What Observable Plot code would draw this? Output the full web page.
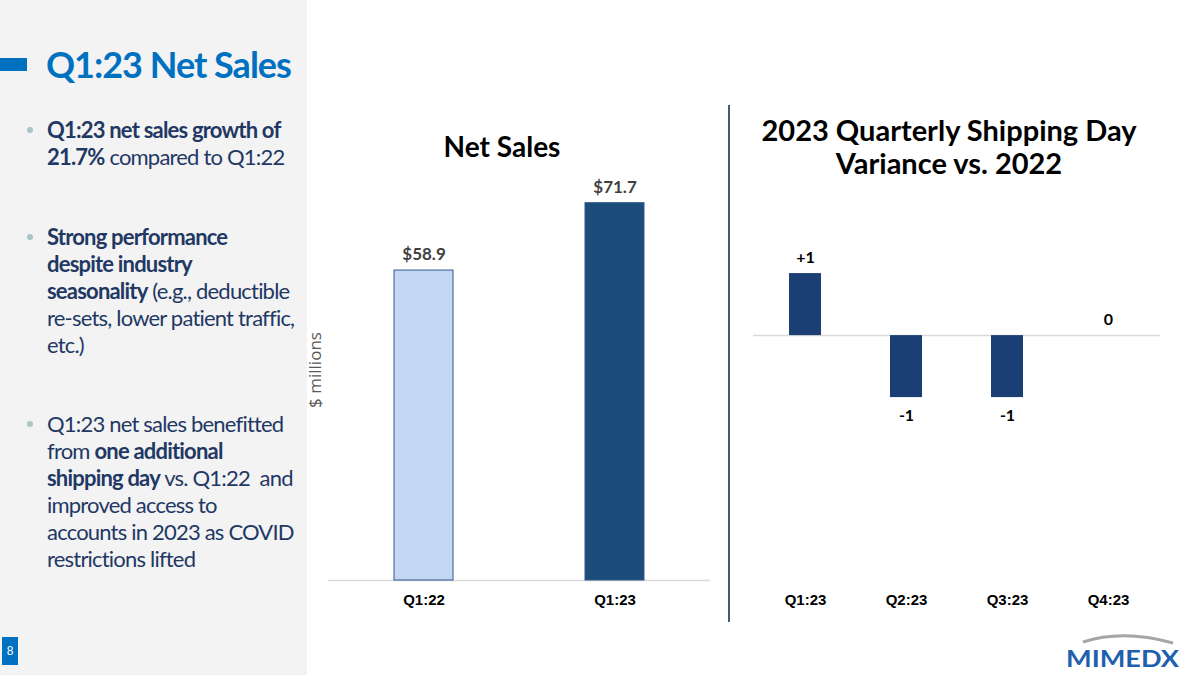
<!DOCTYPE html>
<html><head><meta charset="utf-8">
<script src="https://cdn.jsdelivr.net/npm/d3@7"></script>
<script src="https://cdn.jsdelivr.net/npm/@observablehq/plot@0.6"></script>
<style>
body{margin:0;background:#fff;}
#page{position:relative;width:1200px;height:675px;overflow:hidden;font-family:Lato,"Open Sans",sans-serif;background:#fff;}
#leftpanel{position:absolute;left:0;top:0;width:307px;height:675px;background:#f3f3f3;}
#titlebar{position:absolute;left:0;top:58px;width:27px;height:13px;background:#0070c0;}
#title{position:absolute;left:46px;top:40px;font-size:36px;font-weight:bold;color:#0070c0;letter-spacing:-1px;white-space:nowrap;line-height:48px;}
.bullet{position:absolute;left:47px;font-size:22px;line-height:27px;color:#1f3864;white-space:nowrap;letter-spacing:-0.8px;}
.bullet b{font-weight:bold;}
.dot{position:absolute;left:-20px;top:11px;width:6px;height:6px;border-radius:3px;background:#a9c5c5;}
.ctitle{position:absolute;font-size:28px;font-weight:bold;color:#000;text-align:center;line-height:33px;white-space:nowrap;}
#divider{position:absolute;left:728px;top:105px;width:2px;height:517px;background:#4a5a75;}
#pagenum{position:absolute;left:2px;top:637px;width:16px;height:28px;background:#0070c0;color:#fff;font-family:"Liberation Sans",Arial,sans-serif;font-size:12px;line-height:28px;text-align:center;}
.chart{position:absolute;}
</style></head><body>
<div id="page">
  <div id="leftpanel"></div>
  <div id="titlebar"></div>
  <div id="title">Q1:23 Net Sales</div>
  <div class="bullet" style="top:116px"><span class="dot"></span><b>Q1:23 net sales growth of<br>21.7%</b> compared to Q1:22</div>
  <div class="bullet" style="top:223px"><span class="dot"></span><b>Strong performance<br>despite industry<br>seasonality</b> (e.g., deductible<br>re-sets, lower patient traffic,<br>etc.)</div>
  <div class="bullet" style="top:410px"><span class="dot"></span>Q1:23 net sales benefitted<br>from <b>one additional<br>shipping day</b> vs. Q1:22&nbsp; and<br>improved access to<br>accounts in 2023 as COVID<br>restrictions lifted</div>
  <div class="ctitle" style="left:402px;top:130px;width:200px;">Net Sales</div>
  <div class="ctitle" style="left:749px;top:113px;width:400px;font-size:29px;">2023 Quarterly Shipping Day<br>Variance vs. 2022</div>
  <div id="divider"></div>
  <div id="salesChart" class="chart" style="left:308px;top:150px;"></div>
  <div id="shipChart" class="chart" style="left:740px;top:150px;"></div>
  <div id="pagenum">8</div>
  <svg style="position:absolute;left:1060px;top:630px" width="130" height="42">
    <path d="M 23 12 Q 63 -1 113 13" stroke="#a6a6a6" stroke-width="3" fill="none"/>
    <text x="6" y="37" font-family="Lato, sans-serif" font-weight="bold" font-size="23" fill="#1f5fae" textLength="113" lengthAdjust="spacingAndGlyphs">MIMEDX</text>
  </svg>
</div>
<script>
// Net Sales chart data ($ millions)
const salesCategories = ["Q1:22", "Q1:23"];
const salesValues = [58.9, 71.7];
const salesLabels = ["$58.9", "$71.7"];

// 2023 quarterly shipping day variance vs. 2022
const shipCategories = ["Q1:23", "Q2:23", "Q3:23", "Q4:23"];
const shipValues = [1, -1, -1, 0];
const shipLabels = ["+1", "-1", "-1", "0"];

const salesData = salesCategories.map((c, i) => ({category: c, value: salesValues[i], label: salesLabels[i]}));
const shipData = shipCategories.map((c, i) => ({category: c, value: shipValues[i], label: shipLabels[i]}));

const axisFont = "'Liberation Sans', Arial, sans-serif";

const salesChart = Plot.plot({
  width: 410, height: 470,
  marginLeft: 20, marginRight: 8, marginTop: 9, marginBottom: 40,
  style: {fontFamily: "Lato, sans-serif", background: "transparent", overflow: "visible"},
  x: {domain: salesCategories, paddingInner: 0.69, paddingOuter: 0.345, label: null},
  y: {domain: [0, 80], axis: null},
  color: {domain: salesCategories, range: ["#c3d7f2", "#1b4c7a"]},
  marks: [
    Plot.ruleY([0], {stroke: "#d9d9d9", strokeWidth: 1.5}),
    Plot.barY(salesData, {x: "category", y: "value", fill: "category", stroke: "#2f5b8c", strokeWidth: 1}),
    Plot.text(salesData, {x: "category", y: "value", text: "label", dy: -16, fontSize: 17, fontWeight: "bold", fill: "#404040"}),
    Plot.axisX({label: null, tickSize: 0, tickPadding: 14, fontSize: 15, fontWeight: "bold", fontFamily: axisFont, fill: "#000"}),
    Plot.text(["$ millions"], {frameAnchor: "left", textAnchor: "middle", text: d => d, rotate: -90, dx: -13, fontSize: 17, fill: "#595959", fontFamily: "'Open Sans', sans-serif"})
  ]
});
document.getElementById("salesChart").appendChild(salesChart);

const shipChart = Plot.plot({
  width: 440, height: 470,
  marginLeft: 13, marginRight: 20, marginTop: 9, marginBottom: 40,
  style: {fontFamily: "Lato, sans-serif", background: "transparent", overflow: "visible"},
  x: {domain: shipCategories, paddingInner: 0.685, paddingOuter: 0.3425, label: null},
  y: {domain: [-3.95, 2.84], axis: null},
  marks: [
    Plot.ruleY([0], {stroke: "#d9d9d9", strokeWidth: 1.5}),
    Plot.barY(shipData, {x: "category", y: "value", fill: "#1b3f74"}),
    Plot.text(shipData.filter(d => d.value >= 0), {x: "category", y: "value", text: "label", dy: -16, fontSize: 16, fontWeight: "bold", fill: "#000"}),
    Plot.text(shipData.filter(d => d.value < 0), {x: "category", y: "value", text: "label", dy: 18, fontSize: 16, fontWeight: "bold", fill: "#000"}),
    Plot.axisX({label: null, tickSize: 0, tickPadding: 14, fontSize: 15, fontWeight: "bold", fontFamily: axisFont, fill: "#000"})
  ]
});
document.getElementById("shipChart").appendChild(shipChart);
</script>
</body></html>
